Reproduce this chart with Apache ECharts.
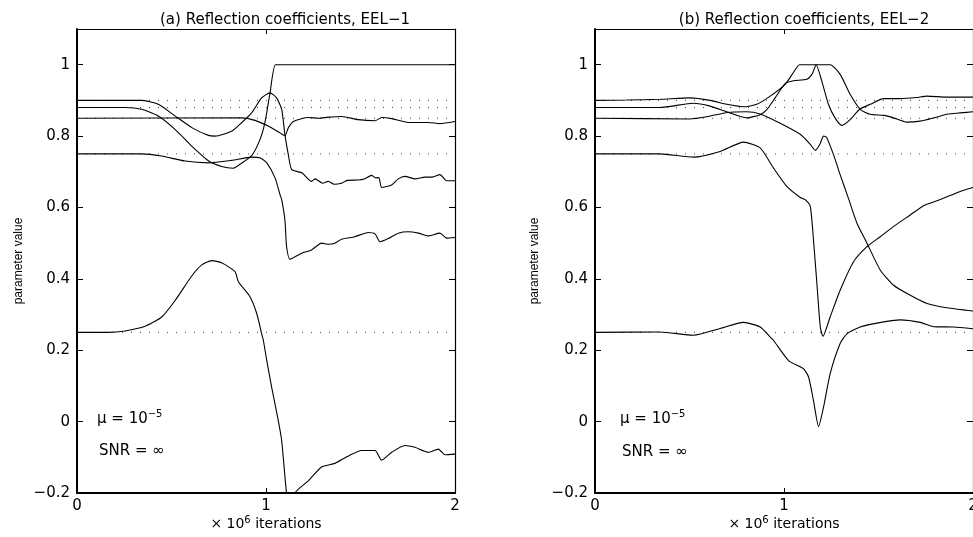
<!DOCTYPE html>
<html>
<head>
<meta charset="utf-8">
<script src="https://cdn.jsdelivr.net/npm/echarts@6/dist/echarts.min.js"></script>
<style>
  html, body { margin: 0; padding: 0; background: #fff; }
  #main { width: 973px; height: 537px; }
</style>
</head>
<body>
<div id="main"></div>
<script>
// true reflection coefficients (dotted lines), same in both panels
var trueValues = [0.9, 0.88, 0.85, 0.75, 0.25];
var xTicks = [0, 1, 2];

// (a) EEL-1 : estimated coefficients vs iterations (x 10^6)
var eel1_k1 = [[0,0.9],[0.34,0.9],[0.43,0.889],[0.52,0.856],[0.61,0.823],[0.695,0.802],[0.73,0.8],[0.82,0.814],[0.87,0.837],[0.924,0.865],[0.977,0.907],[1.021,0.921],[1.056,0.907],[1.083,0.875],[1.1,0.804],[1.118,0.748],[1.136,0.706],[1.19,0.697],[1.241,0.673],[1.26,0.68],[1.3,0.668],[1.33,0.673],[1.36,0.665],[1.4,0.668],[1.43,0.676],[1.488,0.677],[1.52,0.68],[1.559,0.69],[1.58,0.683],[1.597,0.684],[1.612,0.656],[1.665,0.663],[1.7,0.68],[1.735,0.687],[1.79,0.68],[1.841,0.685],[1.88,0.685],[1.92,0.692],[1.956,0.675],[2,0.675]];
var eel1_k2 = [[0,0.88],[0.254,0.88],[0.342,0.875],[0.43,0.856],[0.52,0.818],[0.607,0.772],[0.695,0.731],[0.765,0.715],[0.827,0.71],[0.87,0.724],[0.924,0.745],[0.968,0.79],[0.995,0.84],[1.021,0.92],[1.05,1.0],[1.1,1.0],[2,1.0]];
var eel1_k3 = [[0,0.85],[0.87,0.851],[0.942,0.844],[1.012,0.828],[1.074,0.809],[1.1,0.801],[1.118,0.823],[1.145,0.841],[1.224,0.852],[1.28,0.85],[1.33,0.853],[1.4,0.855],[1.488,0.846],[1.577,0.843],[1.612,0.852],[1.665,0.849],[1.753,0.838],[1.859,0.838],[1.92,0.835],[2,0.841]];
var eel1_k4 = [[0,0.75],[0.342,0.75],[0.448,0.744],[0.571,0.73],[0.695,0.725],[0.818,0.732],[0.924,0.741],[0.968,0.739],[1.004,0.725],[1.048,0.683],[1.074,0.636],[1.083,0.622],[1.1,0.565],[1.109,0.49],[1.127,0.455],[1.19,0.472],[1.241,0.481],[1.294,0.5],[1.33,0.497],[1.365,0.5],[1.4,0.511],[1.47,0.518],[1.541,0.53],[1.577,0.526],[1.603,0.504],[1.647,0.513],[1.7,0.528],[1.753,0.532],[1.806,0.528],[1.859,0.52],[1.92,0.528],[1.956,0.514],[2,0.516]];
var eel1_k5 = [[0,0.25],[0.166,0.25],[0.254,0.254],[0.36,0.267],[0.448,0.293],[0.52,0.34],[0.607,0.408],[0.66,0.439],[0.713,0.451],[0.765,0.445],[0.836,0.42],[0.854,0.392],[0.915,0.35],[0.951,0.303],[0.977,0.246],[0.986,0.228],[1.004,0.171],[1.03,0.096],[1.065,0.003],[1.083,-0.053],[1.109,-0.203],[1.13,-0.27],[1.153,-0.2],[1.224,-0.166],[1.294,-0.127],[1.365,-0.117],[1.436,-0.096],[1.506,-0.081],[1.577,-0.081],[1.612,-0.108],[1.665,-0.086],[1.735,-0.067],[1.788,-0.072],[1.859,-0.086],[1.912,-0.077],[1.947,-0.093],[2,-0.091]];

// (b) EEL-2
var eel2_k1 = [[0,0.9],[0.167,0.901],[0.344,0.903],[0.503,0.907],[0.609,0.9],[0.697,0.889],[0.786,0.882],[0.856,0.889],[0.927,0.912],[1.006,0.945],[1.05,0.978],[1.082,1.0],[1.244,1.0],[1.297,0.973],[1.35,0.917],[1.403,0.875],[1.456,0.861],[1.527,0.858],[1.58,0.851],[1.65,0.839],[1.721,0.842],[1.792,0.851],[1.862,0.861],[1.933,0.865],[2,0.868]];
var eel2_k2 = [[0,0.88],[0.344,0.88],[0.521,0.892],[0.609,0.884],[0.697,0.868],[0.803,0.851],[0.874,0.86],[0.909,0.874],[0.953,0.907],[1.006,0.947],[1.05,0.955],[1.12,0.959],[1.15,0.975],[1.17,1.0],[1.2,0.954],[1.235,0.889],[1.27,0.851],[1.306,0.83],[1.35,0.846],[1.4,0.875],[1.456,0.889],[1.527,0.905],[1.615,0.905],[1.7,0.908],[1.757,0.912],[1.862,0.909],[2,0.909]];
var eel2_k3 = [[0,0.85],[0.5,0.848],[0.6,0.855],[0.7,0.866],[0.8,0.868],[0.874,0.862],[0.98,0.836],[1.086,0.805],[1.139,0.777],[1.165,0.76],[1.19,0.777],[1.209,0.8],[1.225,0.797],[1.262,0.748],[1.297,0.692],[1.342,0.624],[1.386,0.556],[1.439,0.5],[1.509,0.425],[1.58,0.382],[1.668,0.354],[1.757,0.331],[1.862,0.319],[2,0.31]];
var eel2_k4 = [[0,0.75],[0.344,0.75],[0.521,0.741],[0.662,0.757],[0.786,0.783],[0.874,0.767],[0.944,0.711],[1.015,0.659],[1.086,0.628],[1.112,0.622],[1.139,0.603],[1.156,0.509],[1.174,0.387],[1.192,0.265],[1.206,0.239],[1.244,0.293],[1.297,0.368],[1.368,0.448],[1.439,0.49],[1.509,0.518],[1.58,0.547],[1.668,0.579],[1.739,0.605],[1.827,0.622],[1.933,0.645],[2,0.656]];
var eel2_k5 = [[0,0.25],[0.344,0.251],[0.521,0.242],[0.662,0.261],[0.786,0.278],[0.874,0.265],[0.927,0.237],[0.944,0.228],[1.024,0.171],[1.103,0.148],[1.13,0.125],[1.156,0.059],[1.183,-0.014],[1.209,0.04],[1.244,0.134],[1.297,0.219],[1.333,0.246],[1.403,0.265],[1.492,0.276],[1.615,0.285],[1.721,0.278],[1.792,0.266],[1.897,0.265],[2,0.26]];

var panel1 = [eel1_k1, eel1_k2, eel1_k3, eel1_k4, eel1_k5];
var panel2 = [eel2_k1, eel2_k2, eel2_k3, eel2_k4, eel2_k5];

var FONT = 'DejaVu Sans';
var myChart = echarts.init(document.getElementById('main'));

function yLabel(v) {
  if (v > 1.05) return '';   // no label at the top edge (1.1)
  var s = String(+v.toFixed(1));
  return s.replace('-', '\u2212');
}

function xAxisOf(grid, pos) {
  var bottom = pos === 'bottom';
  return {
    type: 'value', gridIndex: grid, position: pos,
    min: 0, max: 2, interval: 1,
    axisLine: { onZero: false, lineStyle: { color: '#000', width: bottom ? 2 : 1.2 } },
    axisTick: { inside: true, length: 5, lineStyle: { color: '#000' } },
    axisLabel: { show: bottom, margin: 6, color: '#000', fontSize: 15, fontFamily: FONT,
      formatter: function (v) { return xTicks.indexOf(v) >= 0 ? String(v) : ''; } },
    splitLine: { show: false },
    name: bottom ? '\u00d7 10{sup|6} iterations' : '',
    nameLocation: 'middle', nameGap: 22, nameMoveOverlap: false,
    nameTextStyle: { color: '#000', fontSize: 14, fontFamily: FONT, lineHeight: 18,
      rich: { sup: { fontSize: 10, fontFamily: FONT, verticalAlign: 'top', lineHeight: 10, color: '#000' } } }
  };
}

function yAxisOf(grid, pos, gap) {
  var left = pos === 'left';
  return {
    type: 'value', gridIndex: grid, position: pos,
    min: -0.2, max: 1.1, interval: 0.2,
    axisLine: { onZero: false, lineStyle: { color: '#000', width: left ? 2 : 1.2 } },
    axisTick: { inside: true, length: 6, lineStyle: { color: '#000' } },
    axisLabel: { show: left, margin: 7, color: '#000', fontSize: 15, fontFamily: FONT, formatter: yLabel },
    splitLine: { show: false },
    name: left ? 'parameter value' : '',
    nameLocation: 'middle', nameGap: gap, nameMoveOverlap: false,
    nameTextStyle: { color: '#000', fontSize: 12, fontFamily: 'Liberation Sans' }
  };
}

var series = [];
[panel1, panel2].forEach(function (curves, p) {
  trueValues.forEach(function (v) {
    series.push({
      type: 'line', xAxisIndex: p * 2, yAxisIndex: p * 2,
      data: [[0, v], [2, v]], showSymbol: false, silent: true, z: 1,
      lineStyle: { color: '#444', width: 1, type: [1, 8] }
    });
  });
  curves.forEach(function (c) {
    series.push({
      type: 'line', xAxisIndex: p * 2, yAxisIndex: p * 2,
      data: c, showSymbol: false, clip: true, z: 2, smooth: 0.2,
      lineStyle: { color: '#000', width: 1.1 }
    });
  });
});

var noteRich = { sup: { fontSize: 10, fontFamily: FONT, verticalAlign: 'top', lineHeight: 10, fill: '#000' } };
function note(x, y, text) {
  return { type: 'text', x: x, y: y,
    style: { text: text, fontSize: 15, fontFamily: FONT, fill: '#000', verticalAlign: 'middle', lineHeight: 20, rich: noteRich } };
}

var option = {
  animation: false,
  backgroundColor: '#fff',
  title: [
    { text: '(a) Reflection coefficients, EEL\u22121', left: 280, top: 8, textAlign: 'center',
      textStyle: { fontSize: 15, fontWeight: 'normal', color: '#000', fontFamily: FONT } },
    { text: '(b) Reflection coefficients, EEL\u22122', left: 799, top: 8, textAlign: 'center',
      textStyle: { fontSize: 15, fontWeight: 'normal', color: '#000', fontFamily: FONT } }
  ],
  grid: [
    { left: 77, top: 29, width: 378, height: 464, outerBoundsMode: 'none', containLabel: false },
    { left: 595, top: 29, width: 378, height: 464, outerBoundsMode: 'none', containLabel: false }
  ],
  xAxis: [xAxisOf(0, 'bottom'), xAxisOf(0, 'top'), xAxisOf(1, 'bottom'), xAxisOf(1, 'top')],
  yAxis: [yAxisOf(0, 'left', 52), yAxisOf(0, 'right', 0), yAxisOf(1, 'left', 54), yAxisOf(1, 'right', 0)],
  series: series,
  graphic: [
    note(97, 419, '\u03bc = 10{sup|\u22125}'),
    note(99, 451, 'SNR = \u221e'),
    note(620, 419, '\u03bc = 10{sup|\u22125}'),
    note(622, 452, 'SNR = \u221e')
  ]
};
myChart.setOption(option);
</script>
</body>
</html>
